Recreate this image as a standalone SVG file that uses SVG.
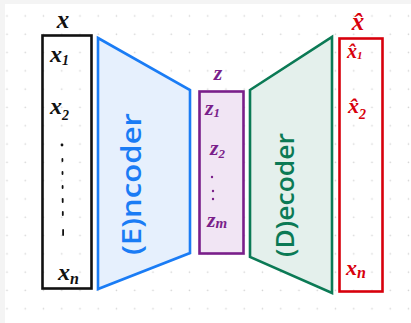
<svg xmlns="http://www.w3.org/2000/svg" width="411" height="323" viewBox="0 0 411 323">
<defs>
<pattern id="dots" patternUnits="userSpaceOnUse" x="-2.1" y="6.9" width="18.25" height="18.3">
<circle cx="9.1" cy="9.1" r="0.8" fill="#d4d4d4"/>
</pattern>
<style>
.hand{font-family:"Liberation Serif","DejaVu Serif",serif;font-style:italic;font-weight:bold;}
.word{font-family:"Open Sans","DejaVu Sans",sans-serif;font-weight:600;}
.blk{fill:#111;}
.red{fill:#d8000c;}
.pur{fill:#7a1f8a;}
</style>
</defs>
<rect width="411" height="323" fill="#f4f4f4"/>
<rect x="5" y="4" width="406" height="319" fill="#ffffff"/>
<rect x="5" y="4" width="406" height="319" fill="url(#dots)"/>

<g id="input">
<rect x="42.5" y="35.5" width="49" height="253" fill="none" stroke="#111" stroke-width="2.6"/>
<text x="63" y="28" class="hand blk" font-size="25" text-anchor="middle">x</text>
<text x="50" y="62" class="hand blk" font-size="24">x<tspan font-size="14" dy="3">1</tspan></text>
<text x="50" y="114" class="hand blk" font-size="24">x<tspan font-size="14" dy="6">2</tspan></text>
<g fill="#111">
<circle cx="62" cy="145" r="1.4"/>
<rect x="61.5" y="158" width="1.8" height="4" rx="0.9"/>
<rect x="61.6" y="171" width="1.8" height="4" rx="0.9"/>
<rect x="61.7" y="185" width="1.8" height="4" rx="0.9"/>
<rect x="61.8" y="198" width="1.8" height="5" rx="0.9"/>
<rect x="61.9" y="211" width="1.8" height="5" rx="0.9"/>
<rect x="62.2" y="229" width="1.8" height="7" rx="0.9"/>
</g>
<text x="58" y="280" class="hand blk" font-size="24">x<tspan font-size="16" dy="4">n</tspan></text>
</g>

<g id="encoder">
<polygon points="98,38 190,90 190,253 98,289" fill="#e6f0fd" stroke="#1a7cf5" stroke-width="2.6" stroke-linejoin="miter"/>
<text transform="translate(141,184) rotate(-90)" class="word" font-size="27" fill="#1a7cf5" text-anchor="middle" textLength="142" lengthAdjust="spacingAndGlyphs">(E)ncoder</text>
</g>

<g id="latent">
<rect x="199.5" y="91.5" width="44" height="162" fill="#f1e5f4" stroke="#7a1f8a" stroke-width="2.6"/>
<text x="218" y="80" class="hand pur" font-size="22" text-anchor="middle">z</text>
<text x="205" y="115" class="hand pur" font-size="22">z<tspan font-size="13" dy="2">1</tspan></text>
<text x="210" y="155" class="hand pur" font-size="22">z<tspan font-size="13" dy="3">2</tspan></text>
<g fill="#7a1f8a">
<circle cx="212" cy="177" r="1.2"/>
<circle cx="213" cy="191" r="1.2"/>
<circle cx="213" cy="199" r="1.2"/>
</g>
<text x="207" y="227" class="hand pur" font-size="22">z<tspan font-size="15" dy="1">m</tspan></text>
</g>

<g id="decoder">
<polygon points="250,90 332,37 332,293 250,257" fill="#e4f0ec" stroke="#0b7a55" stroke-width="2.6" stroke-linejoin="miter"/>
<text transform="translate(294,195) rotate(-90)" class="word" font-size="26" fill="#0b7a55" text-anchor="middle" textLength="124" lengthAdjust="spacingAndGlyphs">(D)ecoder</text>
</g>

<g id="output">
<rect x="339.5" y="38.5" width="43" height="253" fill="none" stroke="#d8000c" stroke-width="2.6"/>
<text x="358" y="30" class="hand red" font-size="25" text-anchor="middle">x̂</text>
<text x="347" y="58" class="hand red" font-size="20">x̂<tspan font-size="11" dy="1">1</tspan></text>
<text x="348" y="113" class="hand red" font-size="22">x̂<tspan font-size="14" dy="6">2</tspan></text>
<text x="346" y="275" class="hand red" font-size="22">x<tspan font-size="16" dy="3">n</tspan></text>
</g>
</svg>
